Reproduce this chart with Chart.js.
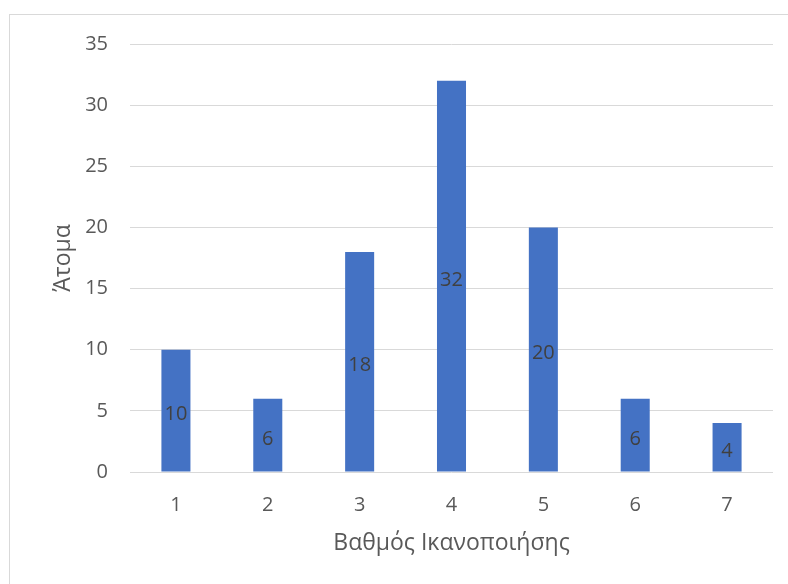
<!DOCTYPE html>
<html>
<head>
<meta charset="utf-8">
<script src="https://cdn.jsdelivr.net/npm/chart.js@4/dist/chart.umd.min.js"></script>
<style>
  html, body { margin: 0; padding: 0; background: #ffffff; overflow: hidden; }
  #wrap { position: relative; width: 788px; height: 584px; }
  #frame { position: absolute; left: 9px; top: 14px; width: 800px; height: 600px;
           border: 1px solid #d9d9d9; box-sizing: border-box; }
  #chart { position: absolute; left: 0; top: 0; }
</style>
</head>
<body>
<div id="wrap">
  <div id="frame"></div>
  <canvas id="chart" width="788" height="584"></canvas>
</div>
<script>
// Satisfaction score (1–7) and number of respondents per score
const categories = ['1', '2', '3', '4', '5', '6', '7'];
const counts = [10, 6, 18, 32, 20, 6, 4];
const yTicks = [0, 5, 10, 15, 20, 25, 30, 35];

const FONT = "'Open Sans', 'Noto Sans', sans-serif";

// Writes each bar's value in the middle of the bar
const centerLabels = {
  id: 'centerLabels',
  afterDatasetsDraw(chart) {
    const ctx = chart.ctx;
    const meta = chart.getDatasetMeta(0);
    ctx.save();
    ctx.font = '20px ' + FONT;
    ctx.fillStyle = '#404040';
    ctx.textAlign = 'center';
    ctx.textBaseline = 'middle';
    meta.data.forEach((bar, i) => {
      const midY = (bar.y + bar.base) / 2;
      ctx.fillText(String(chart.data.datasets[0].data[i]), bar.x, midY + 4);
    });
    ctx.restore();
  }
};

new Chart(document.getElementById('chart'), {
  type: 'bar',
  data: {
    labels: categories,
    datasets: [{
      data: counts,
      backgroundColor: '#4472C4',
      borderWidth: 0,
      barPercentage: 0.316,
      categoryPercentage: 1.0
    }]
  },
  options: {
    responsive: false,
    animation: false,
    layout: { padding: { top: 44, right: 15, bottom: 0, left: 0 } },
    plugins: { legend: { display: false }, tooltip: { enabled: false } },
    scales: {
      x: {
        grid: { display: false, drawTicks: false },
        border: { display: false },
        ticks: { color: '#595959', font: { family: FONT, size: 20 }, padding: 21 },
        title: {
          display: true,
          text: 'Βαθμός Ικανοποιήσης',
          color: '#595959',
          font: { family: FONT, size: 23 },
          padding: { bottom: 27 }
        },
        afterFit(scale) { scale.height = 112; }
      },
      y: {
        min: 0,
        max: 35,
        afterBuildTicks(scale) { scale.ticks = yTicks.map(v => ({ value: v })); },
        grid: { color: '#d9d9d9', lineWidth: 1, drawTicks: false },
        border: { display: false },
        ticks: { color: '#595959', font: { family: FONT, size: 20 }, padding: 22 },
        title: {
          display: true,
          text: 'Άτομα',
          color: '#595959',
          font: { family: FONT, size: 23 },
          padding: { top: 50 }
        },
        afterFit(scale) { scale.width = 130; }
      }
    }
  },
  plugins: [centerLabels]
});
</script>
</body>
</html>
